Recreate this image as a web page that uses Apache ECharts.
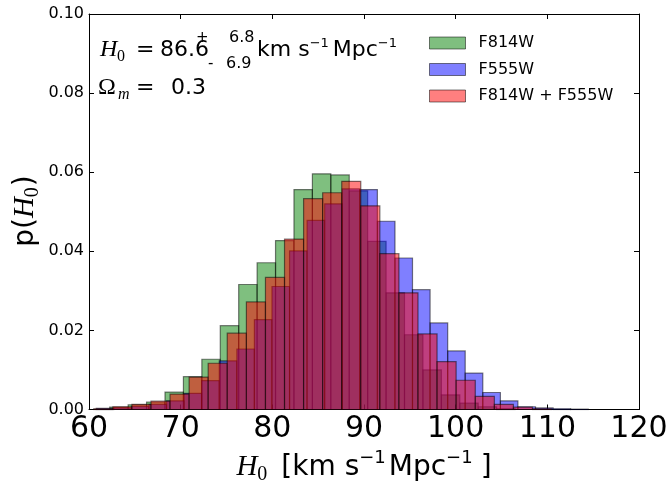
<!DOCTYPE html>
<html><head><meta charset="utf-8">
<script src="https://cdn.jsdelivr.net/npm/echarts/dist/echarts.min.js"></script>
<style>html,body{margin:0;padding:0;background:#fff}#c{width:670px;height:481px}</style>
</head><body><div id="c"></div>
<script>
// ---- data ----
const xTicks = [60, 70, 80, 90, 100, 110, 120];
const yTicks = [0.00, 0.02, 0.04, 0.06, 0.08, 0.10];
const seriesNames = ['F814W', 'F555W', 'F814W + F555W'];

const greenEdges = [62.26, 64.27, 66.28, 68.29, 70.30, 72.31, 74.32, 76.33, 78.34, 80.35, 82.36, 84.37, 86.38, 88.39, 90.40, 92.41, 94.42, 96.43, 98.44, 100.45, 102.46, 104.47, 106.48];
const greenDensity = [0.0006, 0.0012, 0.0019, 0.0044, 0.0083, 0.0127, 0.0212, 0.0316, 0.0371, 0.0427, 0.0556, 0.0596, 0.0593, 0.0553, 0.0425, 0.0295, 0.0189, 0.0100, 0.0037, 0.0016, 0.0007, 0.0002];

const blueEdges = [60.79, 62.71, 64.63, 66.54, 68.46, 70.38, 72.29, 74.21, 76.13, 78.04, 79.96, 81.88, 83.79, 85.71, 87.63, 89.54, 91.46, 93.38, 95.29, 97.21, 99.13, 101.04, 102.96, 104.88, 106.79, 108.71, 110.63, 112.54, 114.46];
const blueDensity = [0.0003, 0.0004, 0.0008, 0.0013, 0.0022, 0.0041, 0.0073, 0.0123, 0.0153, 0.0227, 0.0311, 0.0401, 0.0478, 0.0520, 0.0558, 0.0556, 0.0476, 0.0383, 0.0303, 0.0219, 0.0148, 0.0092, 0.0043, 0.0022, 0.0007, 0.0004, 0.0002, 0.0001];

const redEdges = [60.52, 62.60, 64.68, 66.76, 68.84, 70.92, 73.00, 75.08, 77.17, 79.25, 81.33, 83.41, 85.49, 87.57, 89.65, 91.73, 93.81, 95.89, 97.97, 100.05, 102.14, 104.22, 106.30, 108.38, 110.46];
const redDensity = [0.0002, 0.0007, 0.0013, 0.0021, 0.0039, 0.0082, 0.0117, 0.0193, 0.0272, 0.0334, 0.0431, 0.0533, 0.0548, 0.0577, 0.0515, 0.0394, 0.0295, 0.0191, 0.0121, 0.0074, 0.0033, 0.0013, 0.0006, 0.0002];

// ---- styling ----
const colors = ['rgba(0,128,0,0.5)', 'rgba(0,0,255,0.5)', 'rgba(255,0,0,0.5)'];
const edgeColor = 'rgba(0,0,0,0.5)';
const SANS = 'DejaVu Sans';
const SERIF = 'Liberation Serif';

function toBins(edges, dens) {
  return dens.map((d, i) => [edges[i], edges[i + 1], d]);
}

function renderBin(color) {
  return function (params, api) {
    const p0 = api.coord([api.value(0), api.value(2)]);
    const p1 = api.coord([api.value(1), 0]);
    return {
      type: 'rect',
      shape: { x: p0[0], y: p0[1], width: p1[0] - p0[0], height: p1[1] - p0[1] },
      style: { fill: color, stroke: edgeColor, lineWidth: 1.2 }
    };
  };
}

// text layout helper (math-like runs with sub/superscripts)
const mctx = document.createElement('canvas').getContext('2d');
function fontStr(p) { return (p.italic ? 'italic ' : '') + p.size + 'px "' + (p.family || SANS) + '"'; }
function run(pieces, opts) {
  let x = 0; const kids = [];
  pieces.forEach(p => {
    if (p.at !== undefined) x = p.at;
    x += (p.dx || 0);
    const f = fontStr(p);
    mctx.font = f;
    const w = mctx.measureText(p.t).width;
    kids.push({ type: 'text', x: x, y: (p.dy || 0) - 0.26 * p.size,
      style: { text: p.t, font: f, fill: '#000', align: 'left', verticalAlign: 'middle' } });
    x += w;
  });
  if (opts.center) kids.forEach(k => { k.x -= x / 2; });
  return { type: 'group', x: opts.x, y: opts.y, rotation: opts.rotation || 0, children: kids };
}

const graphics = [
  // annotation line 1
  run([
    { t: 'H', size: 24, family: SERIF, italic: true, at: 100 },
    { t: '0', size: 16, family: SERIF, dy: 5, at: 117 },
    { t: '=', size: 22, family: SANS, at: 136 },
    { t: '86.6', size: 22, family: SANS, at: 160 },
    { t: '+', size: 15, family: SANS, dy: -14, at: 196 },
    { t: '6.8', size: 16, family: SANS, dy: -14, at: 229 },
    { t: '-', size: 15, family: SANS, dy: 12, at: 208 },
    { t: '6.9', size: 16, family: SANS, dy: 12, at: 226 },
    { t: 'km s', size: 22, family: SANS, at: 257 },
    { t: '−1', size: 13, family: SANS, dy: -9 },
    { t: 'Mpc', size: 22, family: SANS, dx: 4 },
    { t: '−1', size: 13, family: SANS, dy: -9 }
  ], { x: 0, y: 56 }),
  // annotation line 2
  run([
    { t: 'Ω', size: 24, family: SERIF, at: 98 },
    { t: 'm', size: 16, family: SERIF, italic: true, dy: 5, at: 118 },
    { t: '=', size: 22, family: SANS, at: 136 },
    { t: '0.3', size: 22, family: SANS, at: 171 }
  ], { x: 0, y: 94 }),
  // x axis title
  run([
    { t: 'H', size: 29, family: SERIF, italic: true },
    { t: '0', size: 20, family: SERIF, dy: 5 },
    { t: '[km s', size: 28, family: SANS, dx: 14 },
    { t: '−1', size: 18, family: SANS, dy: -12 },
    { t: 'Mpc', size: 28, family: SANS, dx: 3 },
    { t: '−1', size: 18, family: SANS, dy: -12 },
    { t: ']', size: 28, family: SANS, dx: 8 }
  ], { x: 364, y: 475, center: true }),
  // y axis title (rotated)
  run([
    { t: 'p(', size: 28, family: SANS },
    { t: 'H', size: 29, family: SERIF, italic: true },
    { t: '0', size: 20, family: SERIF, dy: 5 },
    { t: ')', size: 28, family: SANS, dx: 1 }
  ], { x: 33, y: 211, center: true, rotation: Math.PI / 2 })
];

function xAxisCfg(pos, showLabel) {
  return {
    type: 'value', position: pos, min: xTicks[0], max: xTicks[xTicks.length - 1], interval: 10,
    axisLine: { show: true, onZero: false, lineStyle: { color: '#000', width: 1 } },
    axisTick: { show: true, inside: true, length: 5, lineStyle: { color: '#000', width: 1 } },
    axisLabel: { show: showLabel, fontSize: 30, fontFamily: SANS, color: '#000', margin: 5,
      showMinLabel: true, showMaxLabel: true },
    splitLine: { show: false }
  };
}
function yAxisCfg(pos, showLabel) {
  return {
    type: 'value', position: pos, min: yTicks[0], max: yTicks[yTicks.length - 1], interval: 0.02,
    axisLine: { show: true, onZero: false, lineStyle: { color: '#000', width: 1 } },
    axisTick: { show: true, inside: true, length: 5, lineStyle: { color: '#000', width: 1 } },
    axisLabel: { show: showLabel, fontSize: 16, fontFamily: SANS, color: '#000', margin: 5,
      formatter: v => v.toFixed(2), showMinLabel: true, showMaxLabel: true },
    splitLine: { show: false }
  };
}

const bins = [toBins(greenEdges, greenDensity), toBins(blueEdges, blueDensity), toBins(redEdges, redDensity)];

const option = {
  animation: false,
  backgroundColor: '#fff',
  grid: { left: 89, right: 31, top: 14, bottom: 71.5, containLabel: false, outerBoundsMode: 'none' },
  xAxis: [xAxisCfg('bottom', true), xAxisCfg('top', false)],
  yAxis: [yAxisCfg('left', true), yAxisCfg('right', false)],
  legend: {
    data: seriesNames, orient: 'vertical', left: 424, top: 30,
    itemWidth: 36, itemHeight: 12, itemGap: 10.5, icon: 'rect',
    itemStyle: { borderColor: edgeColor, borderWidth: 1 },
    textStyle: { fontSize: 16, fontFamily: SANS, color: '#000', padding: [0, 0, 0, 8] },
    selectedMode: false
  },
  graphic: graphics,
  series: seriesNames.map((name, i) => ({
    name: name, type: 'custom', xAxisIndex: 0, yAxisIndex: 0,
    renderItem: renderBin(colors[i]),
    itemStyle: { color: colors[i] },
    encode: { x: [0, 1], y: 2 },
    data: bins[i], z: 2 + i
  }))
};

const chart = echarts.init(document.getElementById('c'), null, { renderer: 'canvas' });
chart.setOption(option);
</script>
</body></html>
